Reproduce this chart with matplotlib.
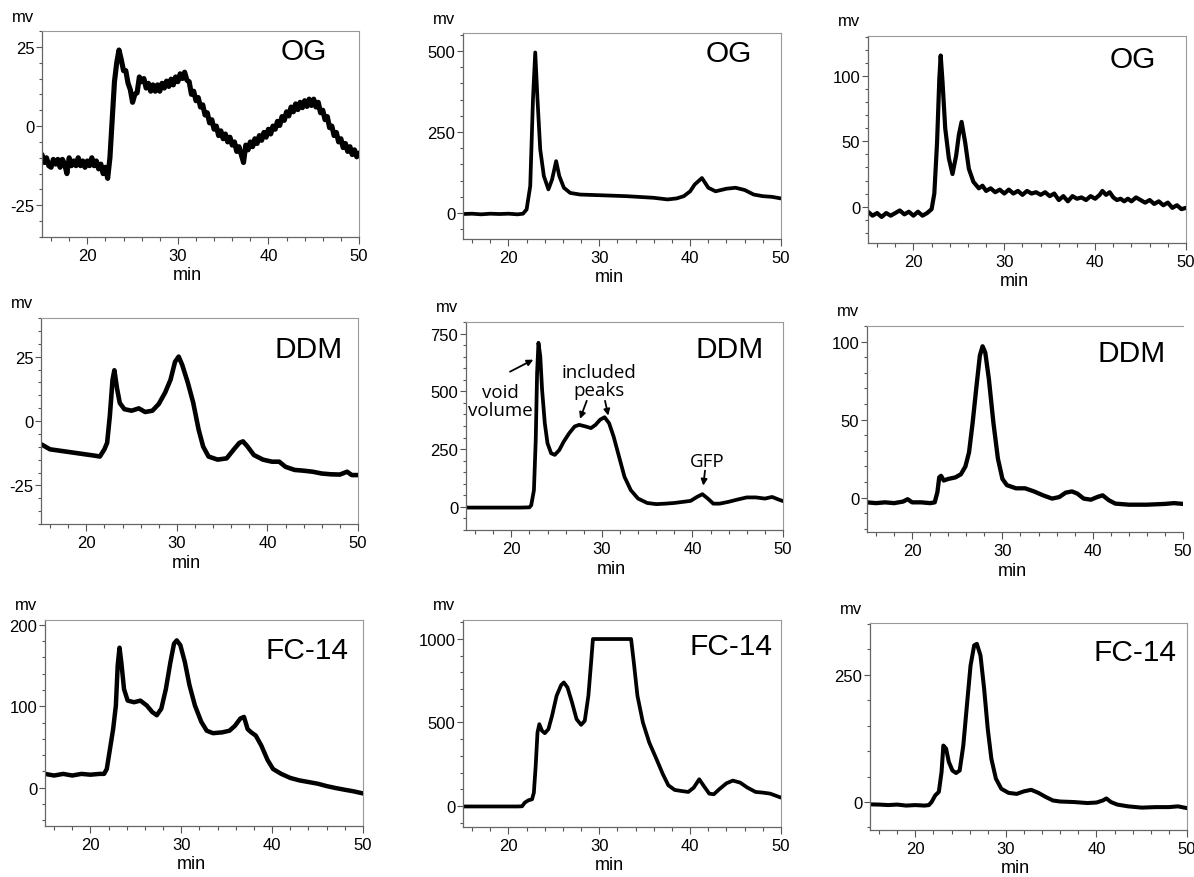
import numpy as np
import matplotlib
matplotlib.use('Agg')
import matplotlib.pyplot as plt
from matplotlib.ticker import MultipleLocator, FixedLocator
from matplotlib.transforms import offset_copy

plt.rcParams['font.family'] = ['Liberation Sans', 'DejaVu Sans']
plt.rcParams['axes.unicode_minus'] = False

# ---- traces (min, mV) ----
# OG, column 1 : noisy trace, detector sampled every 0.25 min
og1_t = np.arange(15, 50.001, 0.25)
og1_mv = [-9, -11.5, -10, -12.5,
          -13, -10.5, -12, -10.5,
          -13, -10.5, -12, -15,
          -10, -12.5, -11, -12.5,
          -10, -12.5, -11, -13,
          -11, -12.5, -10, -12.5,
          -11, -13.5, -12, -15,
          -13, -16.5, -10, 2,
          14, 20, 24, 21,
          17.5, 17.5, 13.5, 11.5,
          7.5, 10, 10.5, 15.5,
          14, 15, 12, 13.5,
          11, 13, 11, 13,
          11, 13.5, 12, 14.2,
          12.5, 14.8, 13, 15.5,
          14, 16.5, 15, 17,
          14.5, 14, 10, 11,
          8, 9, 6, 6.7,
          3.5, 4.2, 1, 2,
          -1, 0, -3, -1.5,
          -4, -2.5, -5, -3.5,
          -6, -5, -8, -6.5,
          -9, -11.5, -6, -7.5,
          -5, -6.5, -4, -5.5,
          -3, -4.5, -2, -3.5,
          -1, -2.5, 0, -1,
          1.5, 0.2, 3, 1.8,
          4.5, 3.2, 6, 4.5,
          7, 5.2, 7.5, 5.8,
          8, 6.2, 8.5, 6.5,
          8.5, 6, 7.5, 4.2,
          5, 2, 3, -0.5,
          0, -3, -2, -5,
          -4, -6.8, -5.5, -8,
          -6.5, -9, -7.5, -9.7,
          -8.5]

og2_t = [15, 16, 17, 18, 19, 20, 21, 21.6, 22.0, 22.4, 22.7, 22.95, 23.2, 23.5,
         23.9, 24.4, 24.8, 25.25, 25.6, 26.1, 26.8, 27.9, 30, 33, 36, 37.5, 38.5,
         39.3, 40, 40.5, 41.3, 42, 42.8, 44, 45, 46, 47, 48, 49, 50]
og2_mv = [-3, -2, -4, -2, -3, -2, -4, -2, 11, 83, 350, 495, 350, 196,
          114, 73, 103, 160, 114, 78, 62, 57, 55, 52, 47, 42, 45,
          52, 67, 88, 108, 78, 67, 75, 78, 71, 57, 52, 50, 45]

og3_t = [15, 15.5, 16, 16.5, 17, 17.5, 18, 18.5, 19, 19.5, 20, 20.5, 21, 21.5,
         22, 22.3, 22.6, 22.85, 23.0, 23.2, 23.5, 23.9, 24.3, 24.7, 25.0, 25.3,
         25.7, 26.1, 26.6, 27.2, 27.6, 28, 28.5, 29, 29.5, 30, 30.5, 31, 31.5,
         32, 32.5, 33, 33.5, 34, 34.5, 35, 35.5, 36, 36.5, 37, 37.5, 38, 38.5,
         39, 39.5, 40, 40.5, 40.8, 41.2, 41.6, 42, 42.4, 42.8, 43.2, 43.6, 44,
         44.5, 45, 45.5, 46, 46.5, 47, 47.5, 48, 48.5, 49, 49.5, 50]
og3_mv = [-4, -7, -5, -8, -5, -7, -5, -3, -6, -4, -7, -4, -7, -5,
          -2, 10, 49, 98, 116, 96, 60, 37, 25, 39, 55, 65,
          49, 29, 19, 14, 16, 12, 14, 11, 13, 10, 13, 10, 12,
          9, 12, 10, 11, 9, 11, 8, 10, 5, 8, 4, 8, 6, 7,
          5, 8, 6, 9, 12, 9, 11, 7, 5, 6, 4, 6, 4,
          7, 5, 3, 5, 2, 4, 1, 3, -1, 1, -2, -1]

ddm1_t = [15, 16, 17, 18, 19, 20, 21, 21.5, 22, 22.3, 22.6, 22.9, 23.1, 23.4,
          23.7, 24.2, 25, 25.8, 26.5, 27.3, 28, 28.7, 29.3, 29.8, 30.2, 30.6,
          31.2, 31.8, 32.4, 32.9, 33.5, 34.5, 35.5, 36.3, 36.9, 37.3, 37.8,
          38.5, 39.5, 40.5, 41.3, 42, 43, 44, 45, 46, 47, 48, 48.8, 49.3, 50]
ddm1_mv = [-9, -11, -11.5, -12, -12.5, -13, -13.5, -13.8, -11, -8.5, 2, 16, 19.7, 12.5,
           7, 4.6, 4, 4.9, 3.5, 4, 6.6, 11, 16, 23, 25, 21.7,
           15, 7.2, -3.3, -9.9, -13.8, -15, -14.5, -11, -8.5, -7.9, -9.9,
           -13.2, -15, -15.8, -15.8, -17.8, -19, -19.3, -19.7, -20.4, -20.7, -20.8, -19.7, -21, -21]

ddm2_t = [15, 17, 19, 21, 22.0, 22.2, 22.5, 22.7, 22.85, 23.0, 23.2, 23.4, 23.7,
          24.0, 24.4, 24.8, 25.3, 25.8, 26.4, 27.0, 27.5, 28.2, 28.8, 29.3, 29.8,
          30.3, 30.8, 31.3, 31.9, 32.5, 33.2, 34, 35, 36, 37, 38, 39, 39.8, 40.5,
          41.1, 41.7, 42.3, 43, 44, 45, 46, 47, 48, 48.8, 49.5, 50]
ddm2_mv = [-3, -3, -3, -3, -2, 7, 72, 290, 580, 710, 652, 507, 362,
           275, 232, 225, 246, 283, 319, 348, 355, 348, 341, 355, 377,
           388, 362, 304, 217, 130, 72, 36, 17, 12, 14, 17, 22, 26, 43,
           55, 36, 14, 14, 22, 32, 41, 41, 36, 43, 32, 25]

ddm3_t = [15, 16, 17, 18, 19, 19.5, 20, 21, 22, 22.5, 22.8, 23.0, 23.2, 23.5, 24,
          24.8, 25.4, 25.9, 26.3, 26.7, 27.1, 27.5, 27.8, 28.1, 28.5, 29, 29.5,
          30, 30.5, 31.5, 32.5, 33.5, 34.5, 35.5, 36.3, 37, 37.7, 38.3, 39, 39.8,
          40.5, 41.1, 41.8, 42.5, 44, 46, 48, 49, 50]
ddm3_mv = [-3, -3.5, -3, -3.5, -2.5, -1, -3, -3, -3.5, -3, 3.6, 13, 14, 11, 12,
           13, 15, 20, 29, 48, 70, 91, 97, 93, 76, 48, 25,
           12, 8, 6, 6, 4, 1.5, -0.6, 0.4, 3.2, 4, 2.6, -0.6, -1.3,
           0.4, 1.5, -1.7, -3.8, -4.5, -4.5, -4, -3.5, -4]

fc1_t = [15, 16, 17, 18, 19, 20, 21, 21.5, 21.8, 22.1, 22.5, 22.8, 23.0, 23.2,
         23.4, 23.7, 24.1, 24.8, 25.5, 26.2, 26.8, 27.3, 27.8, 28.3, 28.8, 29.2,
         29.5, 29.9, 30.4, 30.9, 31.5, 32.2, 32.8, 33.5, 34.5, 35.3, 35.9, 36.5,
         36.9, 37.3, 37.7, 38.2, 38.8, 39.5, 40.1, 41, 42, 43, 44, 45, 46, 47,
         48, 49, 50]
fc1_mv = [17, 15, 17, 15, 17, 16, 17, 17, 23, 44, 72, 101, 150, 172,
          154, 121, 107, 105, 107, 101, 93, 89, 97, 121, 154, 177,
          181, 175, 154, 126, 101, 81, 70, 67, 68, 70, 76, 85,
          87, 72, 68, 64, 52, 34, 23, 17, 12, 9, 7, 5, 2, -0.4,
          -2.5, -4.5, -7]

fc2_t = [15, 17, 19, 21, 21.5, 21.8, 22.2, 22.6, 22.8, 23.0, 23.2, 23.4, 23.7,
         24.0, 24.4, 24.8, 25.3, 25.8, 26.1, 26.5, 27, 27.5, 28, 28.4, 28.8, 29.1,
         29.3, 33.5, 33.8, 34.2, 34.8, 35.5, 36.3, 37, 37.6, 38.3, 39, 39.8, 40.4,
         41, 41.5, 42.1, 42.6, 43.2, 44, 44.7, 45.5, 46.3, 47.2, 48, 48.8, 49.5, 50]
fc2_mv = [-3, -3, -3, -3, -2, 20, 34, 40, 80, 240, 440, 490, 450,
          436, 460, 540, 660, 724, 740, 710, 620, 520, 486, 510, 660, 860,
          1000, 1000, 860, 660, 500, 380, 280, 190, 124, 96, 90, 84, 110,
          160, 120, 74, 70, 100, 136, 152, 140, 110, 84, 80, 74, 60, 50]

fc3_t = [15, 16, 17, 18, 19, 20, 21, 21.5, 21.8, 22.2, 22.6, 22.9, 23.1, 23.4,
         23.7, 24.1, 24.5, 24.9, 25.3, 25.7, 26.1, 26.5, 26.8, 27.2, 27.6, 28.0,
         28.4, 28.9, 29.5, 30.3, 31.2, 32, 32.8, 33.6, 34.4, 35.2, 36, 37.5, 39,
         40, 40.7, 41.1, 41.6, 42.3, 43.5, 45, 46.5, 48, 49, 50]
fc3_mv = [-4.6, -5, -6, -5, -7, -6, -7, -6, 0, 13, 20, 59, 111, 105,
          79, 62, 57, 62, 111, 190, 268, 308, 311, 288, 223, 144,
          85, 46, 26, 18, 16, 21, 24, 18, 10, 3, 1, 0, -2,
          -1, 3, 7, 0, -5, -8.5, -11, -10, -10, -8.5, -12]

W, H = 1194, 878
fig = plt.figure(figsize=(W / 100, H / 100), dpi=100)

# trace, name, pixel box (l, t, r, b), ylim, major y ticks, minor step, title offset, line width
panels = [
    (og1_t, og1_mv, 'OG', (42, 32, 359, 238), (-35, 30), [-25, 0, 25], 5, (32, 28), 3.7),
    (og2_t, og2_mv, 'OG', (463, 34, 781, 240), (-80, 555), [0, 250, 500], 50, (29, 28), 2.7),
    (og3_t, og3_mv, 'OG', (868, 37, 1186, 244), (-28, 131), [0, 50, 100], 10, (30, 31), 3.0),
    (ddm1_t, ddm1_mv, 'DDM', (41, 319, 358, 525), (-40, 40), [-25, 0, 25], 5, (15, 39), 3.3),
    (ddm2_t, ddm2_mv, 'DDM', (466, 323, 783, 531), (-100, 800), [0, 250, 500, 750], 50, (19, 35), 2.7),
    (ddm3_t, ddm3_mv, 'DDM', (867, 327, 1183, 533), (-22, 110), [0, 50, 100], 10, (17, 35), 3.1),
    (fc1_t, fc1_mv, 'FC-14', (45, 621, 363, 827), (-47, 206), [0, 100, 200], 20, (15, 38), 3.2),
    (fc2_t, fc2_mv, 'FC-14', (463, 621, 781, 828), (-126, 1114), [0, 500, 1000], 100, (9, 34), 2.7),
    (fc3_t, fc3_mv, 'FC-14', (870, 624, 1187, 831), (-55, 352), [0, 250], 50, (11, 37), 2.9),
]

axes = []
for i, (t, mv, name, box, ylim, yt, ystep, toff, lw) in enumerate(panels):
    l, top, r, b = box
    ax = fig.add_axes([l / W, 1 - b / H, (r - l) / W, (b - top) / H])
    ax.plot(t, mv, color='black', lw=lw, solid_joinstyle='round', solid_capstyle='round')
    ax.set_xlim(15, 50)
    ax.set_ylim(*ylim)
    ax.xaxis.set_major_locator(FixedLocator([20, 30, 40, 50]))
    ax.xaxis.set_minor_locator(MultipleLocator(2))
    ax.yaxis.set_major_locator(FixedLocator(yt))
    ax.yaxis.set_minor_locator(MultipleLocator(ystep))
    ax.tick_params(which='both', direction='out', colors='#555', labelcolor='black',
                   labelsize=12, width=0.8)
    ax.tick_params(axis='x', which='major', length=5, pad=3)
    ax.tick_params(axis='x', which='minor', length=3)
    ax.tick_params(axis='y', which='major', length=4, pad=1.5)
    ax.tick_params(axis='y', which='minor', length=2.5)
    for s in ['top', 'right']:
        ax.spines[s].set_color('#999')
        ax.spines[s].set_linewidth(0.8)
    for s in ['left', 'bottom']:
        ax.spines[s].set_color('#666')
        ax.spines[s].set_linewidth(0.9)
    if i == 5:
        ax.spines['right'].set_visible(False)

    ax.text(1, 1, name, fontsize=21.5, ha='right', va='baseline',
            transform=offset_copy(ax.transAxes, fig=fig, x=-toff[0], y=-toff[1], units='dots'))
    ax.text(0, 1, 'mv', fontsize=12, ha='center', va='center',
            transform=offset_copy(ax.transAxes, fig=fig, x=-19, y=15, units='dots'))
    ax.text(0.46, 0, 'min', fontsize=13, ha='center', va='center',
            transform=offset_copy(ax.transAxes, fig=fig, x=0, y=-38, units='dots'))
    axes.append(ax)

# labels on the DDM middle run
ax = axes[4]
note = dict(fontsize=13.5, family=['Open Sans', 'DejaVu Sans'], ha='center', va='center',
            linespacing=0.95)
arrow = dict(arrowstyle='-|>', color='black', lw=1.3, mutation_scale=9, shrinkA=0, shrinkB=0)
ax.text(18.85, 458, 'void\nvolume', **note)
ax.annotate('', xy=(22.43, 637), xytext=(19.86, 585), arrowprops=arrow)
ax.text(29.65, 545, 'included\npeaks', **note)
ax.annotate('', xy=(27.59, 381), xytext=(28.33, 459), arrowprops=arrow)
ax.annotate('', xy=(30.71, 395), xytext=(30.35, 459), arrowprops=arrow)
ax.text(41.6, 198, 'GFP', **note)
ax.annotate('', xy=(41.2, 92), xytext=(41.39, 157), arrowprops=arrow)

fig.savefig('out.png', dpi=100)
